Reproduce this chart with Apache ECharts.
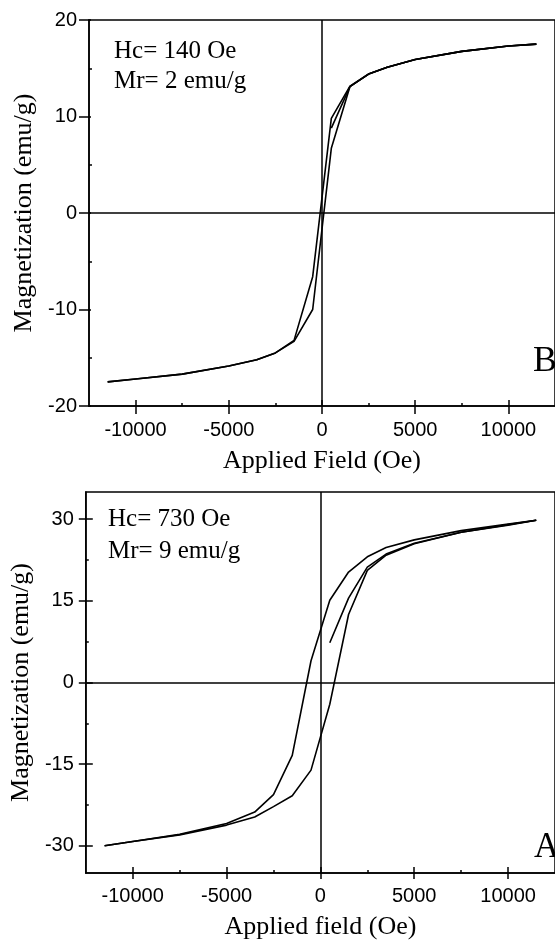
<!DOCTYPE html>
<html>
<head>
<meta charset="utf-8">
<script src="https://cdn.jsdelivr.net/npm/echarts@6/dist/echarts.min.js"></script>
<style>
html,body{margin:0;padding:0;background:#fff;}
#c{width:555px;height:943px;}
</style>
</head>
<body>
<div id="c"></div>
<script>
// ---------- data ----------
// Panel B (top)
const fieldDown = [11500, 10000, 7500, 5000, 3500, 2500, 1500, 500, -500, -1500, -2500, -3500, -5000, -7500, -10000, -11500];
const magDownB  = [17.5, 17.3, 16.75, 15.9, 15.1, 14.4, 13.15, 9.8, -6.6, -13.2, -14.5, -15.2, -15.85, -16.7, -17.2, -17.5];
const fieldUp   = [-11500, -10000, -7500, -5000, -3500, -2500, -1500, -500, 500, 1500, 2500, 3500, 5000, 7500, 10000, 11500];
const magUpB    = [-17.5, -17.2, -16.7, -15.85, -15.2, -14.5, -13.3, -10.0, 6.7, 13.1, 14.4, 15.1, 15.9, 16.75, 17.3, 17.5];
const fieldVirgin = [500, 1500, 2500, 3500, 5000, 7500, 10000, 11500];
const magVirginB  = [8.8, 13.1, 14.4, 15.1, 15.9, 16.75, 17.3, 17.5];
// Panel A (bottom)
const magDownA   = [29.8, 29.1, 27.9, 26.2, 24.8, 23.1, 20.3, 15.1, 4.0, -13.4, -20.6, -23.8, -25.9, -27.9, -29.2, -30.0];
const magUpA     = [-30.0, -29.2, -28.0, -26.2, -24.7, -22.8, -20.8, -16.1, -4.0, 12.5, 20.6, 23.4, 25.5, 27.6, 28.9, 29.8];
const magVirginA = [7.3, 15.5, 21.2, 23.6, 25.6, 27.6, 29.0, 29.8];

// axis ticks
const xMajor = [-10000, -5000, 0, 5000, 10000];
const xMinor = [-7500, -2500, 2500, 7500];
const yMajorB = [-20, -10, 0, 10, 20];
const yMinorB = [-15, -5, 5, 15];
const yMajorA = [-30, -15, 0, 15, 30];
const yMinorA = [-22.5, -7.5, 7.5, 22.5];

const textB1 = 'Hc= 140 Oe', textB2 = 'Mr= 2 emu/g', panelB = 'B';
const textA1 = 'Hc= 730 Oe', textA2 = 'Mr= 9 emu/g', panelA = 'A';
const xNameB = 'Applied Field (Oe)', xNameA = 'Applied field (Oe)';
const yName = 'Magnetization (emu/g)';

// ---------- chart ----------
const zip = (a, b) => a.map((v, i) => [v, b[i]]);
const SANS = 'Liberation Sans', SERIF = 'Liberation Serif';
const LW = 1.5;
const plain = v => String(v);

function xAxes(grid, name, gap, lblMargin, outLen, inLen) {
  const base = {gridIndex: grid, type: 'value', position: 'bottom', offset: 0, min: -12500, max: 12500, splitLine: {show: false}};
  return [
    Object.assign({}, base, {
      name: name, nameLocation: 'middle', nameGap: gap,
      nameTextStyle: {fontFamily: SERIF, fontSize: 26, color: '#000'},
      axisLine: {show: true, onZero: false, lineStyle: {color: '#000', width: LW}},
      axisTick: {show: true, inside: false, length: outLen, customValues: xMajor, lineStyle: {color: '#000', width: LW}},
      axisLabel: {show: true, customValues: xMajor, formatter: plain, margin: lblMargin, fontFamily: SANS, fontSize: 20, color: '#000'}
    }),
    Object.assign({}, base, {
      axisLine: {show: false, onZero: false}, axisLabel: {show: false},
      axisTick: {show: true, inside: true, length: inLen, customValues: xMajor, lineStyle: {color: '#000', width: LW}}
    }),
    Object.assign({}, base, {
      axisLine: {show: false, onZero: false}, axisLabel: {show: false},
      axisTick: {show: true, inside: true, length: 3, customValues: xMinor, lineStyle: {color: '#000', width: LW}}
    })
  ];
}
function yAxes(grid, min, max, major, minor, gap, outLen, inLen) {
  const base = {gridIndex: grid, type: 'value', position: 'left', offset: 0, min: min, max: max, splitLine: {show: false}};
  return [
    Object.assign({}, base, {
      name: yName, nameLocation: 'middle', nameGap: gap,
      nameTextStyle: {fontFamily: SERIF, fontSize: 26, color: '#000'},
      axisLine: {show: true, onZero: false, lineStyle: {color: '#000', width: LW}},
      axisTick: {show: true, inside: false, length: outLen, customValues: major, lineStyle: {color: '#000', width: LW}},
      axisLabel: {show: true, customValues: major, formatter: plain, margin: 12, fontFamily: SANS, fontSize: 20, color: '#000'}
    }),
    Object.assign({}, base, {
      axisLine: {show: false, onZero: false}, axisLabel: {show: false},
      axisTick: {show: inLen > 0, inside: true, length: inLen, customValues: major, lineStyle: {color: '#000', width: LW}}
    }),
    Object.assign({}, base, {
      axisLine: {show: false, onZero: false}, axisLabel: {show: false},
      axisTick: {show: true, inside: true, length: 3, customValues: minor, lineStyle: {color: '#000', width: LW}}
    })
  ];
}

function lineSeries(xi, yi, data, withZero) {
  const s = {
    type: 'line', xAxisIndex: xi, yAxisIndex: yi, data: data,
    showSymbol: false, symbol: 'none', smooth: false, animation: false,
    lineStyle: {color: '#000', width: 1.6}
  };
  if (withZero) {
    s.markLine = {
      silent: true, symbol: 'none', animation: false, label: {show: false},
      lineStyle: {color: '#000', width: LW, type: 'solid'},
      data: [{xAxis: 0}, {yAxis: 0}]
    };
  }
  return s;
}

const chart = echarts.init(document.getElementById('c'), null, {renderer: 'canvas'});
chart.setOption({
  backgroundColor: '#fff',
  animation: false,
  grid: [
    {left: 89, top: 20, width: 467, height: 386, show: true, borderColor: '#000', borderWidth: LW, backgroundColor: 'transparent'},
    {left: 84.5, top: 492, width: 475, height: 381, show: true, borderColor: '#000', borderWidth: LW, backgroundColor: 'transparent'}
  ],
  xAxis: [].concat(xAxes(0, xNameB, 42, 14, 8, 6), xAxes(1, xNameA, 41, 13, 6, 6)),
  yAxis: [].concat(yAxes(0, -20, 20, yMajorB, yMinorB, 46, 10, 2), yAxes(1, -35, 35, yMajorA, yMinorA, 44, 7, 7)),
  series: [
    lineSeries(0, 0, zip(fieldDown, magDownB), true),
    lineSeries(0, 0, zip(fieldUp, magUpB), false),
    lineSeries(0, 0, zip(fieldVirgin, magVirginB), false),
    lineSeries(3, 3, zip(fieldDown, magDownA), true),
    lineSeries(3, 3, zip(fieldUp, magUpA), false),
    lineSeries(3, 3, zip(fieldVirgin, magVirginA), false)
  ],
  graphic: [
    {type: 'text', left: 114, top: 39, style: {text: textB1, fontFamily: SERIF, fontSize: 25, fill: '#000'}},
    {type: 'text', left: 114, top: 69, style: {text: textB2, fontFamily: SERIF, fontSize: 25, fill: '#000'}},
    {type: 'text', left: 533, top: 344, style: {text: panelB, fontFamily: SERIF, fontSize: 36, fill: '#000'}},
    {type: 'text', left: 108, top: 507, style: {text: textA1, fontFamily: SERIF, fontSize: 25, fill: '#000'}},
    {type: 'text', left: 108, top: 539, style: {text: textA2, fontFamily: SERIF, fontSize: 25, fill: '#000'}},
    {type: 'text', left: 534, top: 830, style: {text: panelA, fontFamily: SERIF, fontSize: 35, fill: '#000'}}
  ]
});
</script>
</body>
</html>
